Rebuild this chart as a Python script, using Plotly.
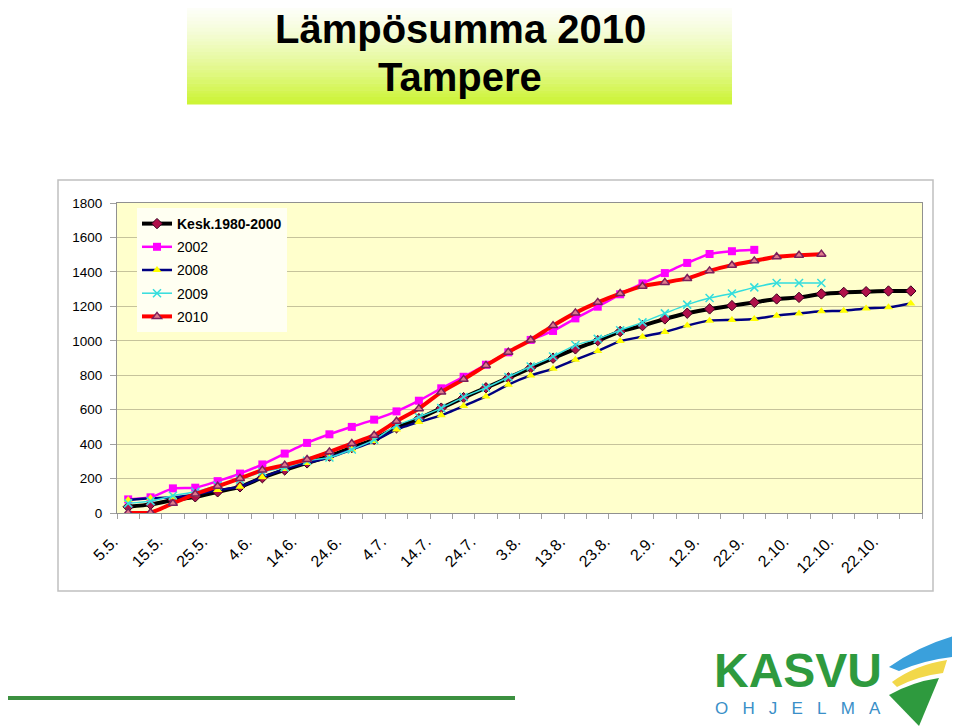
import plotly.graph_objects as go

# categories (every 5 days, 5.5. -> 27.10.)
dates = ["5.5.", "10.5.", "15.5.", "20.5.", "25.5.", "30.5.", "4.6.", "9.6.", "14.6.", "19.6.",
         "24.6.", "29.6.", "4.7.", "9.7.", "14.7.", "19.7.", "24.7.", "29.7.", "3.8.", "8.8.",
         "13.8.", "18.8.", "23.8.", "28.8.", "2.9.", "7.9.", "12.9.", "17.9.", "22.9.", "27.9.",
         "2.10.", "7.10.", "12.10.", "17.10.", "22.10.", "27.10."]

kesk = [36, 50, 75, 94, 123, 152, 205, 250, 291, 330, 380, 427, 495, 548, 609, 670, 727, 785,
        843, 899, 953, 1001, 1054, 1088, 1127, 1160, 1185, 1204, 1223, 1243, 1252, 1272, 1281,
        1285, 1289, 1289]
y2002 = [79, 91, 143, 147, 185, 229, 282, 345, 407, 457, 500, 542, 590, 652, 724, 791, 861, 933,
         1005, 1057, 1130, 1198, 1270, 1333, 1393, 1452, 1504, 1520, 1528]
y2008 = [75, 85, 91, 108, 133, 152, 207, 255, 291, 322, 369, 418, 485, 528, 567, 621, 677, 745,
         799, 837, 890, 940, 998, 1024, 1051, 1088, 1117, 1121, 1127, 1146, 1159, 1171, 1175,
         1188, 1194, 1217]
y2009 = [56, 69, 100, 123, 160, 195, 239, 264, 303, 322, 369, 425, 509, 557, 609, 673, 727, 789,
         851, 909, 975, 1011, 1061, 1107, 1159, 1210, 1248, 1275, 1310, 1335, 1335, 1335]
y2010 = [2, 2, 56, 110, 155, 201, 249, 278, 311, 355, 403, 451, 533, 606, 702, 776, 857, 934,
         1005, 1088, 1162, 1223, 1274, 1317, 1339, 1362, 1406, 1439, 1464, 1488, 1497, 1503]

tick_labels = [d if i % 2 == 0 else "" for i, d in enumerate(dates)]

# plot area in page pixels; the page body has an 8px margin
L, R, T, B = 117, 922, 203, 513
OFF = 8
W, H = 952, 719


def px(x):
    return (x - L) / (R - L)


def py(y):
    return (B - y) / (B - T)


fig = go.Figure()

fig.add_trace(go.Scatter(
    x=dates[:len(kesk)], y=kesk, name="<b>Kesk.1980-2000</b>", legendgroup="a",
    mode="lines+markers", line=dict(color="black", width=4, shape="spline", smoothing=0.5),
    marker=dict(symbol="diamond", size=8, color="#b0104a", line=dict(color="#3a0020", width=1))))
fig.add_trace(go.Scatter(
    x=dates[:len(y2002)], y=y2002, name="2002", legendgroup="b",
    mode="lines+markers", line=dict(color="#ff00ff", width=2.5, shape="spline", smoothing=0.5),
    marker=dict(symbol="square", size=8, color="#ff00ff")))
fig.add_trace(go.Scatter(
    x=dates[:len(y2008)], y=y2008, name="2008", legendgroup="c",
    mode="lines+markers", line=dict(color="#000080", width=2.5, shape="spline", smoothing=0.5),
    marker=dict(symbol="triangle-up", size=8, color="#ffff00")))
fig.add_trace(go.Scatter(
    x=dates[:len(y2009)], y=y2009, name="2009", legendgroup="d",
    mode="lines+markers", line=dict(color="#33dddd", width=1.5, shape="spline", smoothing=0.5),
    marker=dict(symbol="x-thin", size=8, color="#33dddd", line=dict(color="#33dddd", width=1.5))))
fig.add_trace(go.Scatter(
    x=dates[:len(y2010)], y=y2010, name="2010", legendgroup="e",
    mode="lines+markers", line=dict(color="#ff0000", width=4, shape="spline", smoothing=0.5),
    marker=dict(symbol="triangle-up", size=8, color="#e07a8a", line=dict(color="#7a1f5c", width=1.5))))

shapes = []
# title box with vertical gradient
n = 30
for k in range(n):
    t = (k + 0.5) / n
    f = t ** 1.4
    c = (int(255 - (255 - 204) * f), int(255 - (255 - 244) * f), int(255 - (255 - 50) * f))
    y0 = 0 + 104 * k / n
    y1 = 0 + 104 * (k + 1) / n + 0.5
    shapes.append(dict(type="rect", xref="paper", yref="paper", layer="below",
                       x0=px(187), x1=px(732), y0=py(y1), y1=py(y0),
                       fillcolor="rgb(%d,%d,%d)" % c, line=dict(width=0)))
# outer chart border
shapes.append(dict(type="rect", xref="paper", yref="paper", layer="below",
                   x0=px(58), x1=px(933), y0=py(591), y1=py(180),
                   line=dict(color="#c0c0c0", width=1.5)))
# green rule at the bottom
shapes.append(dict(type="line", xref="paper", yref="paper",
                   x0=px(3), x1=px(515), y0=py(698), y1=py(698),
                   line=dict(color="#3c9040", width=4)))


def path(points):
    s = ""
    for cmd, pts in points:
        s += cmd + " " + " ".join("%.4f,%.4f" % (px(a), py(b)) for a, b in pts) + " "
    return s + "Z"


# logo sail
shapes.append(dict(type="path", xref="paper", yref="paper", fillcolor="#3aa0dc", line=dict(width=0),
                   path=path([("M", [(889, 667)]), ("Q", [(920, 645), (957, 635)]),
                              ("L", [(953, 657)]), ("Q", [(925, 660), (899, 671)])])))
shapes.append(dict(type="path", xref="paper", yref="paper", fillcolor="#f2d84a", line=dict(width=0),
                   path=path([("M", [(892, 682)]), ("Q", [(915, 665), (947, 660)]),
                              ("L", [(943, 673)]), ("Q", [(918, 676), (897, 687)])])))
shapes.append(dict(type="path", xref="paper", yref="paper", fillcolor="#2e9a3e", line=dict(width=0),
                   path=path([("M", [(889, 695)]), ("Q", [(912, 682), (939, 678)]),
                              ("L", [(919, 726)])])))


def label(text, x, y, size, color, xanchor="center", yanchor="middle"):
    return dict(text=text, xref="paper", yref="paper", x=px(x), y=py(y), xanchor=xanchor,
                yanchor=yanchor, showarrow=False,
                font=dict(size=size, color=color, family="Liberation Sans"))


annotations = [
    label("<b>Lämpösumma 2010</b>", 460, 29, 40, "black"),
    label("<b>Tampere</b>", 460, 77, 40, "black"),
    label("<b>KASVU</b>", 712, 699, 48, "#2e9a3e", "left", "bottom"),
    label("\u00a0\u00a0\u00a0".join("OHJELMA"), 713, 697, 17, "#3a8fc8", "left", "top"),
]

fig.update_layout(
    width=W, height=H,
    margin=dict(l=L - OFF, r=W - (R - OFF), t=T - OFF, b=H - (B - OFF)),
    paper_bgcolor="white", plot_bgcolor="#ffffcc",
    font=dict(family="Liberation Sans", color="black"),
    showlegend=True,
    legend=dict(x=px(137), y=py(208), xanchor="left", yanchor="top", bgcolor="#fffff2",
                font=dict(size=14, family="Liberation Sans"), traceorder="grouped",
                tracegroupgap=2, borderwidth=0),
    shapes=shapes, annotations=annotations,
)
fig.update_xaxes(type="category", categoryorder="array", categoryarray=dates,
                 tickvals=dates, ticktext=tick_labels, tickson="boundaries",
                 ticks="outside", ticklen=5, tickcolor="#a0a0a0", tickangle=-45,
                 tickfont=dict(size=16), ticklabelstandoff=12, ticklabelshift=-15,
                 showline=True, linecolor="#909090", mirror=True, showgrid=False,
                 range=[-0.5, len(dates) - 0.5])
fig.update_yaxes(range=[0, 1800], dtick=200, ticks="outside", ticklen=6, tickcolor="#a0a0a0",
                 tickfont=dict(size=13.5), ticklabelstandoff=5,
                 showline=True, linecolor="#909090", mirror=True,
                 showgrid=True, gridcolor="#c6c39b", gridwidth=1, zeroline=False)

fig.write_html("out.html")
